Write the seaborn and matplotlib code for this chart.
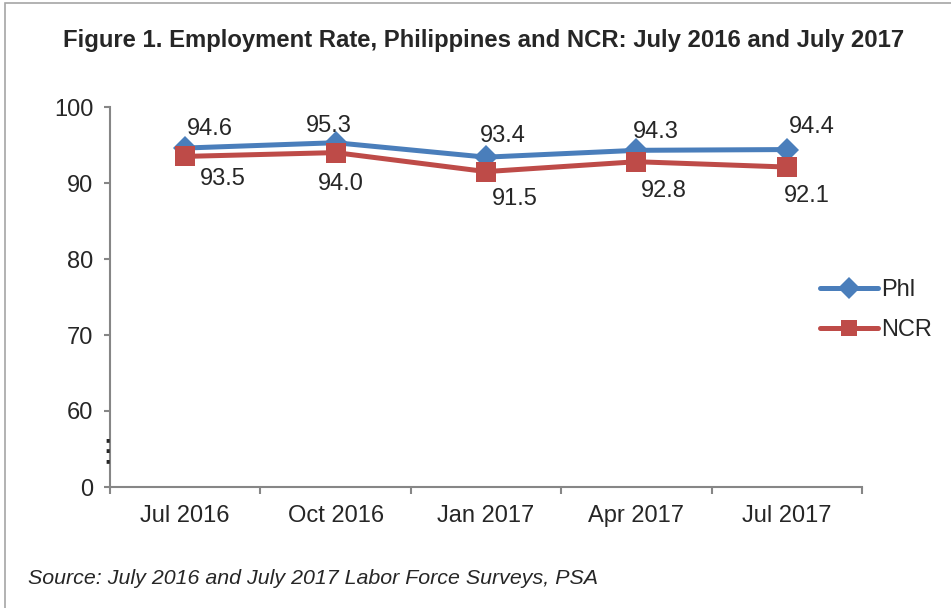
import numpy as np
import pandas as pd
import matplotlib
matplotlib.use("Agg")
import matplotlib.pyplot as plt
import seaborn as sns
from matplotlib.patches import Rectangle

# ── Data ────────────────────────────────────────────────────
periods = ["Jul 2016", "Oct 2016", "Jan 2017", "Apr 2017", "Jul 2017"]
phl = [94.6, 95.3, 93.4, 94.3, 94.4]
ncr = [93.5, 94.0, 91.5, 92.8, 92.1]
ytick_vals = [50, 60, 70, 80, 90, 100]
ytick_labels = ["0", "60", "70", "80", "90", "100"]

# label offsets (pixels) tuned to the original
phl_off = [(2, 8), (-30, 6), (-6, 10), (-4, 7), (2, 12)]
ncr_off = [(15, -12), (-18, -20), (6, -16), (4, -18), (-3, -18)]

df = pd.DataFrame({"period": periods * 2,
                   "rate": phl + ncr,
                   "series": ["Phl"] * 5 + ["NCR"] * 5})

sns.set_style("white")
plt.rcParams["font.family"] = ["Liberation Sans", "DejaVu Sans"]

BLUE = "#4A7EBB"
RED = "#BE4B48"
GRAY = "#868686"
FS = 17

fig = plt.figure(figsize=(9.51, 6.08), dpi=100)
ax = fig.add_axes([110 / 951, 121 / 608, 752 / 951, 380 / 608])

sns.lineplot(data=df, x="period", y="rate", hue="series", style="series",
             palette={"Phl": BLUE, "NCR": RED},
             markers={"Phl": "D", "NCR": "s"}, dashes=False,
             linewidth=3.6, markersize=12, markeredgewidth=0,
             sort=False, legend=False, ax=ax)

# bigger squares for NCR
for line in ax.get_lines():
    if line.get_marker() == "s":
        line.set_markersize(14)

ax.set_xlim(-0.5, 4.5)
ax.set_ylim(50, 100)
ax.set_yticks(ytick_vals)
ax.set_yticklabels(ytick_labels)
ax.set_xticks(range(len(periods)))
ax.set_xticklabels(periods)
ax.set_xticks(np.arange(-0.5, 5.0, 1.0), minor=True)
ax.set_xlabel("")
ax.set_ylabel("")

for s in ["top", "right"]:
    ax.spines[s].set_visible(False)
for s in ["left", "bottom"]:
    ax.spines[s].set_color(GRAY)
    ax.spines[s].set_linewidth(1.5)

ax.tick_params(axis="y", which="major", length=4, width=1.5, color=GRAY,
               labelsize=FS, pad=8, left=True)
ax.tick_params(axis="x", which="major", length=0, labelsize=FS, pad=13)
ax.tick_params(axis="x", which="minor", length=5, width=1.5, color=GRAY,
               bottom=True)

# data labels
for i, v in enumerate(phl):
    dx, dy = phl_off[i]
    ax.annotate(f"{v:.1f}", (i, v), xytext=(dx, dy), textcoords="offset pixels",
                ha="left", va="bottom", fontsize=FS)
for i, v in enumerate(ncr):
    dx, dy = ncr_off[i]
    ax.annotate(f"{v:.1f}", (i, v), xytext=(dx, dy), textcoords="offset pixels",
                ha="left", va="top", fontsize=FS)

# axis break marker
ax.text(-2 / 752, 54.7, "⋮", transform=ax.get_yaxis_transform(), ha="center",
        va="center", fontsize=22, family="DejaVu Sans")

# legend to the right of the plot
legend_handles = [
    plt.Line2D([], [], color=BLUE, lw=3.6, marker="D", markersize=11, markeredgewidth=0),
    plt.Line2D([], [], color=RED, lw=3.6, marker="s", markersize=12, markeredgewidth=0),
]
fig.legend(legend_handles, ["Phl", "NCR"], loc="center left",
           bbox_to_anchor=(820 / 951, 1 - 310 / 608), frameon=False,
           fontsize=FS, handlelength=2.45, handletextpad=0.15,
           labelspacing=0.75, borderpad=0, borderaxespad=0)

fig.text(484 / 951, 1 - 40 / 608,
         "Figure 1. Employment Rate, Philippines and NCR: July 2016 and July 2017",
         ha="center", va="center", fontsize=17.2, fontweight="bold")
fig.text(28 / 951, 1 - 578 / 608,
         "Source: July 2016 and July 2017 Labor Force Surveys, PSA",
         ha="left", va="center", fontsize=15.4, style="italic")

# chart border (left and top edges visible)
fig.patches.append(Rectangle((5 / 951, -0.05), 1.1, 1.05 - 3 / 608,
                             transform=fig.transFigure, fill=False,
                             edgecolor="#A6A6A6", linewidth=1.2))

fig.savefig("out.png", dpi=100)
